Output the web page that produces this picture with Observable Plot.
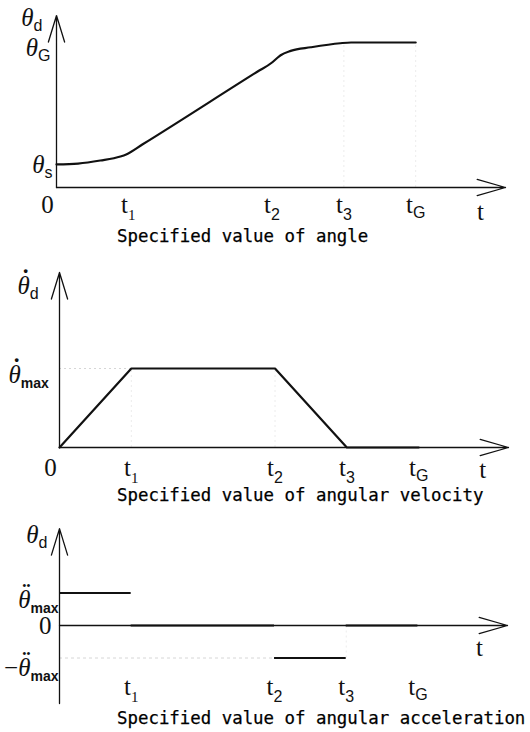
<!DOCTYPE html>
<html>
<head>
<meta charset="utf-8">
<script src="https://cdn.jsdelivr.net/npm/d3@7"></script>
<script src="https://cdn.jsdelivr.net/npm/@observablehq/plot@0.6"></script>
<style>
  body { margin: 0; background: #fff; overflow: hidden; }
  #fig { position: relative; width: 530px; height: 732px; overflow: hidden; background: #fff; }
  #fig svg { position: absolute; left: 0; }
  .cap { position: absolute; left: 117px; font-family: "DejaVu Sans Mono", monospace; font-size: 17.4px;
         line-height: 1; white-space: nowrap; color: #000; -webkit-text-stroke: 0.25px #000; }
</style>
</head>
<body>
<div id="fig"></div>
<script>
// ---- shared time axis ----------------------------------------------------
const tickTimes = [1, 3, 4, 5];
const tickNames = ["t_1", "t_2", "t_3", "t_G"];
const tAxisEnd = 6.25;

// ---- angle θd(t): slow start, linear ramp, slow finish -------------------
const angleT = [0, 0.3, 0.61, 0.89, 0.97, 1.2, 2.8, 3.0, 3.06, 3.12, 3.26, 3.54, 3.95, 4.1, 5];
const angleV = [0.159, 0.165, 0.186, 0.214, 0.228, 0.298, 0.800, 0.862, 0.888, 0.912, 0.942, 0.967, 0.995, 1, 1];

// ---- angular velocity: trapezoid -----------------------------------------
const velT = [0, 1, 3, 4, 5];
const velV = [0, 1, 1, 0, 0];

// ---- angular acceleration: piecewise constant -----------------------------
const accStart = [0, 1, 3, 4];
const accEnd   = [1, 3, 4, 5];
const accV     = [1, 0, -1, 0];

// ---- axis label texts ------------------------------------------------------
const angleLabels = ["θ_d", "θ_G", "θ_s"];
const angleLabelX = [-0.195, -0.084, -0.056];
const angleLabelY = [1.166, 0.96, 0.155];

const velLabels = ["θ\u0307_d", "θ\u0307_max"];
const velLabelX = [-0.29, -0.15];
const velLabelY = [2.05, 0.92];

const accLabels = ["θ_d", "θ\u0308_max", "−θ\u0308_max"];
const accLabelX = [-0.167, -0.014, -0.014];
const accLabelY = [2.8, 0.8, -1.3];
const accZeroX = -0.11;

const captions = ["Specified value of angle",
                  "Specified value of angular velocity",
                  "Specified value of angular acceleration"];

const fig = document.getElementById("fig");
const INK = "#111";
const serif = "Liberation Serif, serif";
const sans = "Liberation Sans, Arial, sans-serif";

// Turn "base_sub" strings into text with a subscript; a combining dot on the
// base letter is drawn as a separate accent centred over it.
function subscripts(svg) {
  d3.select(svg).selectAll("text").each(function () {
    const s = this.textContent;
    const i = s.indexOf("_");
    if (i < 0) return;
    let base = s.slice(0, i);
    const sub = s.slice(i + 1);
    let accent = null;
    if (base.endsWith("\u0307")) { accent = "\u02D9"; base = base.slice(0, -1); }
    else if (base.endsWith("\u0308")) { accent = "\u00A8"; base = base.slice(0, -1); }
    const el = d3.select(this);
    el.text(null);
    let prefix = "";
    if (base.length > 1) { prefix = base.slice(0, -1); base = base.slice(-1); }
    if (prefix) el.append("tspan").attr("font-style", "normal").text(prefix);
    const b = el.append("tspan").text(base);
    const digit = /^[0-9]$/.test(sub);
    const raise = 7, drop = digit ? 7 : 5;
    let subDx = 0;
    if (accent) {
      const a = el.append("tspan").attr("font-weight", "bold").attr("font-style", "normal").text(accent);
      const w = b.node().getComputedTextLength();
      const aw = a.node().getComputedTextLength();
      a.attr("dx", -(w / 2 + aw / 2) + 2).attr("dy", -raise);
      subDx = w / 2 - aw / 2 - 2;
    }
    el.append("tspan")
      .attr("dx", subDx)
      .attr("dy", (accent ? raise : 0) + drop)
      .attr("font-family", digit && sub === "1" ? serif : sans)
      .attr("font-style", "normal")
      .attr("font-weight", sub === "max" ? "bold" : "normal")
      .attr("font-size", sub === "max" ? 14 : digit && sub === "1" ? 15 : 16)
      .text(sub);
  });
}

function axes(yMin, yMax) {
  return [
    Plot.arrow([{x1: 0, y1: 0, x2: tAxisEnd, y2: 0}],
      {x1: "x1", y1: "y1", x2: "x2", y2: "y2", stroke: INK, strokeWidth: 1.3, headAngle: 32, headLength: 34}),
    Plot.arrow([{x1: 0, y1: yMin, x2: 0, y2: yMax}],
      {x1: "x1", y1: "y1", x2: "x2", y2: "y2", stroke: INK, strokeWidth: 1.3, headAngle: 34, headLength: 32})
  ];
}

function tickText(y, withZero) {
  const rows = tickNames.map((n, i) => ({x: tickTimes[i], y, text: n}));
  if (withZero) rows.push({x: -0.125, y, text: "0"});
  return Plot.text(rows, {x: "x", y: "y", text: "text", fontSize: 25, fontFamily: serif, fill: INK});
}

function tLabel(x, y) {
  return Plot.text([{x, y}], {x: "x", y: "y", text: () => "t", fontSize: 25, fontFamily: serif, fill: INK});
}

function panel(top, height, xRange, y, marks) {
  const svg = Plot.plot({
    width: 530, height,
    margin: 0,
    x: {domain: [0, tAxisEnd], range: xRange, axis: null},
    y: {...y, axis: null},
    style: {background: "transparent", overflow: "visible"},
    marks
  });
  svg.style.top = top + "px";
  fig.appendChild(svg);
  subscripts(svg);
}

function caption(text, top) {
  const d = document.createElement("div");
  d.className = "cap";
  d.style.top = top + "px";
  d.textContent = text;
  fig.appendChild(d);
}

// ---- panel 1: angle ------------------------------------------------------
const angle = angleT.map((t, i) => ({t, v: angleV[i]}));
panel(0, 225, [56, 505], {domain: [0, 1], range: [187, 42]}, [
  Plot.ruleX([4, 5], {y1: 0, y2: 1, stroke: "#ececec", strokeDasharray: "2,3"}),
  ...axes(0, 1.186),
  Plot.line(angle, {x: "t", y: "v", curve: "monotone-x", stroke: INK, strokeWidth: 2.2}),
  tickText(-0.124, true),
  tLabel(5.9, -0.17),
  Plot.text(angleLabels.map((s, i) => ({s, x: angleLabelX[i], y: angleLabelY[i]})),
    {x: "x", y: "y", text: "s", textAnchor: "end", fontSize: 25, fontStyle: "italic", fontFamily: serif, fill: INK})
]);
caption(captions[0], 228);

// ---- panel 2: angular velocity -------------------------------------------
const vel = velT.map((t, i) => ({t, v: velV[i]}));
panel(250, 235, [59, 508], {domain: [0, 1], range: [197, 118]}, [
  Plot.ruleY([1], {x1: 0, x2: 1, stroke: "#d6d6d6", strokeDasharray: "2,3"}),
  Plot.ruleX([1, 3], {y1: 0, y2: 1, stroke: "#ececec", strokeDasharray: "2,3"}),
  ...axes(0, 2.215),
  Plot.line(vel, {x: "t", y: "v", stroke: INK, strokeWidth: 2.2}),
  tickText(-0.26, true),
  tLabel(5.89, -0.29),
  Plot.text(velLabels.map((s, i) => ({s, x: velLabelX[i], y: velLabelY[i]})),
    {x: "x", y: "y", text: "s", textAnchor: "end", fontSize: 25, fontStyle: "italic", fontFamily: serif, fill: INK})
]);
caption(captions[1], 487);

// ---- panel 3: angular acceleration ---------------------------------------
const acc = accV.map((v, i) => ({x1: accStart[i], x2: accEnd[i], v}));
panel(505, 205, [59, 507], {domain: [-1, 1], range: [152.5, 87.5]}, [
  Plot.ruleY([-1], {x1: 0, x2: 3, stroke: "#d6d6d6", strokeDasharray: "3,3"}),
  Plot.ruleX([4], {y1: -1, y2: 0, stroke: "#ececec", strokeDasharray: "2,3"}),
  ...axes(-2.4, 2.98),
  Plot.ruleY(acc, {x1: "x1", x2: "x2", y: "v", stroke: INK, strokeWidth: 2.2}),
  tickText(-1.9, false),
  tLabel(5.86, -0.68),
  Plot.text([{x: accZeroX, y: 0}], {x: "x", y: "y", text: () => "0", textAnchor: "end", fontSize: 25, fontFamily: serif, fill: INK}),
  Plot.text(accLabels.map((s, i) => ({s, x: accLabelX[i], y: accLabelY[i]})),
    {x: "x", y: "y", text: "s", textAnchor: "end", fontSize: 25, fontStyle: "italic", fontFamily: serif, fill: INK})
]);
caption(captions[2], 710);
</script>
</body>
</html>
